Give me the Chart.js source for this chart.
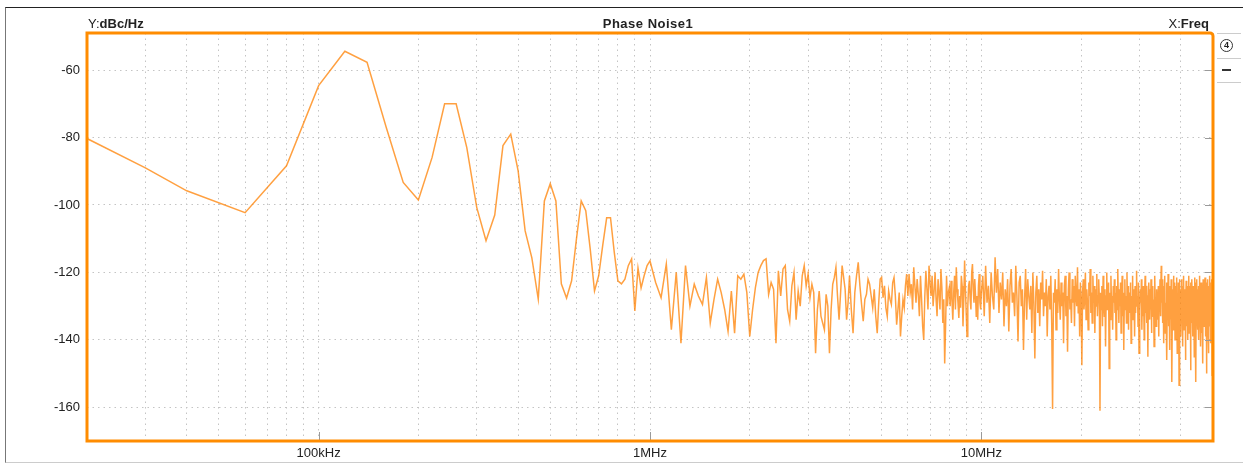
<!DOCTYPE html>
<html>
<head>
<meta charset="utf-8">
<script src="https://cdn.jsdelivr.net/npm/chart.js@4.4.1/dist/chart.umd.min.js"></script>
<style>
  html, body { margin: 0; padding: 0; background: #fff; }
  #wrap { position: relative; width: 1243px; height: 464px; overflow: hidden; font-family: "Liberation Sans", Arial, sans-serif; color: #222; }
  #frame { position: absolute; left: 5px; top: 7px; width: 1250px; height: 454px; border-top: 1px solid #222; border-left: 1px solid #777; border-bottom: 1px solid #ccc; }
  #chart { position: absolute; left: 0; top: 0; }
  .hdr { position: absolute; top: 17px; font-size: 13px; line-height: 14px; white-space: nowrap; }
  .hdr b { font-weight: bold; }
  #ylab { left: 88px; }
  #title { left: 648px; transform: translateX(-50%); font-weight: bold; letter-spacing: 0.5px; }
  #xlab { right: 34px; }
  .sep { position: absolute; left: 1217px; width: 24px; height: 1px; background: #ccc; }
  #circ { position: absolute; left: 1220px; top: 39px; width: 11px; height: 11px; border: 1.5px solid #333; border-radius: 50%; font-size: 9px; font-weight: bold; line-height: 11px; text-align: center; }
  #minus { position: absolute; left: 1222px; top: 69px; width: 9px; height: 2px; background: #333; }
</style>
</head>
<body>
<div id="wrap">
  <div id="frame"></div>
  <canvas id="chart" width="1243" height="464"></canvas>
  <div class="hdr" id="ylab">Y:<b>dBc/Hz</b></div>
  <div class="hdr" id="title">Phase Noise1</div>
  <div class="hdr" id="xlab">X:<b>Freq</b></div>
  <div class="sep" style="top:33px"></div>
  <div id="circ">4</div>
  <div class="sep" style="top:58px"></div>
  <div id="minus"></div>
  <div class="sep" style="top:82px"></div>
</div>
<script>
// low offset region, frequencies in kHz
var freqA = [20, 30, 40, 60, 80, 100, 120, 140, 160, 180, 200, 220, 240, 260, 280, 300, 320, 340, 360, 380,
    400, 420, 440, 460, 480, 500, 520, 540, 560, 580, 600, 620, 640, 660, 680, 700, 720, 740, 760, 780,
    800, 820, 840, 860, 880, 900, 920, 940, 960, 980, 1000];
var dbA = [-80.3, -89, -95.8, -102.3, -88.4, -64.6, -54.4, -57.7, -77, -93.3, -98.5, -85.9, -70, -70, -83, -100.7, -110.6, -103, -82.4, -79,
    -89.9, -107.7, -115.7, -127.9, -98.8, -93.7, -98.8, -123.4, -127.6, -122.5, -110, -98.8, -101.7, -113, -125.5, -121, -112, -103.8, -103.8, -114,
    -122.5, -123.4, -122, -118, -116, -131.4, -118.7, -124.6, -121, -118, -116.6];

// noise floor, sampled on uniform grids
var noiseStartHz = [1.04e6, 2.04e6, 4.05e6, 10.1e6];
var noiseStepHz = [40e3, 40e3, 50e3, 100e3];
var noiseDb = [
    [-123, -127.5, -117.5, -137, -120, -141, -118, -130, -123.5, -127, -129.5, -121.5, -135, -128, -122, -126, -131, -137.5, -125.5, -138,
     -121, -122, -120.5, -126, -139],
    [-131, -124.5, -120, -118, -116.5, -116, -126.5, -123, -125, -141, -119.5, -127, -119, -118, -131, -134.5, -124, -120, -134, -125.5,
     -130, -121, -118, -124, -120.5, -127.5, -123.5, -126, -144, -131, -125.5, -133, -135, -137, -126.5, -130, -144, -131, -123.5, -121.5,
     -118.5, -127, -134, -126, -118, -121.5, -125, -134, -129, -121],
    [-131, -138, -126, -121, -117, -124, -129.5, -134.5, -128, -126.5, -122, -123.5, -127, -130.5, -125, -133, -138, -129, -122, -121.5,
     -127.5, -124, -130.5, -133, -125.5, -128, -129.5, -123, -121.5, -127, -135.5, -131, -126, -139, -133, -128, -130.5, -124, -120.5, -127,
     -120.5, -126, -123.5, -131, -118.5, -124, -129, -122, -126.5, -133, -121, -128, -136, -140, -127, -119.5, -125, -131, -118, -123,
     -127, -121, -130, -125.5, -120, -128, -133, -122, -126, -131, -119, -124.5, -135, -128, -147, -135.5, -121, -130, -126, -124.5,
     -130, -122.5, -128, -134, -126, -121, -131, -118.5, -125, -129, -133.5, -127, -130.5, -121, -124, -136, -128, -116.5, -125, -132,
     -139, -130, -124, -122.5, -128, -131, -120, -117.5, -125, -129, -122, -126.5, -133, -127, -134, -124, -120.5, -129, -131, -126],
    [-121, -133, -118, -129, -124, -135, -120, -127, -131, -115.5,
     -126, -119, -132, -123, -128, -120, -136, -125, -130, -122,
     -137.5, -124, -119, -129, -126, -133, -118, -127, -140.5, -123,
     -121, -130, -125, -143, -128, -119, -134, -122, -127, -131,
     -124, -138, -120, -129, -145.5, -126, -121, -132, -125, -136,
     -123, -128, -119.5, -133, -126, -130, -122, -139, -127, -124,
     -131, -121, -135, -160.5, -126, -129, -122, -137, -125, -132,
     -119, -128, -134, -123, -130, -126, -141, -124, -121, -133,
     -127, -143.5, -125, -120, -131, -128, -135, -122, -129, -124,
     -136, -121, -127, -130, -118.5, -132, -125, -139, -123, -128,
     -147.5, -126, -122, -131, -128, -120, -134, -125, -129, -137,
     -123, -127, -119, -132, -126, -135, -121, -129, -124, -138,
     -125, -130, -120.5, -133, -127, -122, -128, -161, -126, -131,
     -124, -136, -121, -129, -133, -125, -142, -127, -120, -131,
     -128, -123, -148.5, -126, -134, -121, -130, -127, -137, -124,
     -129, -122, -132, -126, -140, -124, -131, -119, -128, -135,
     -125, -130, -123, -138, -127, -121, -133, -126, -143, -128,
     -122, -131, -127, -135, -120, -129, -124, -137, -126, -132,
     -128, -123, -141, -127, -130, -121, -134, -125, -129, -139,
     -124, -132, -126, -119.5, -130, -127, -136, -123, -144, -128,
     -131, -125, -129, -122, -137, -127, -133, -124, -130, -140,
     -126, -121, -132, -128, -135, -124, -130, -145, -127, -123,
     -129, -134, -125, -131, -122, -138, -127, -130, -124, -133,
     -128, -142, -126, -121, -131, -129, -136, -125, -130, -127,
     -134, -124, -139, -128, -131, -122, -133, -127, -118, -129,
     -126, -135, -122, -130, -141, -124, -132, -121, -138, -129,
     -131, -123, -146, -127, -133, -120.5, -136, -126, -130, -143,
     -124, -129, -134, -122, -127, -152.5, -131, -125, -137, -121,
     -133, -126, -123, -140, -128, -124, -135, -121.5, -127, -144,
     -129, -136, -123, -132, -153.5, -126, -122, -134, -125, -139,
     -131, -122, -135, -129, -142, -124, -133, -121, -137, -127,
     -132, -125, -146, -130, -122.5, -136, -129, -124, -127, -140,
     -126, -133, -121, -138, -124, -131, -128, -149, -123, -127,
     -135, -122, -131, -126, -139, -124, -133, -127, -145, -121.5,
     -128, -136, -123, -152.5, -126, -134, -122, -132, -137, -125,
     -133, -124, -140, -131, -121, -135, -127, -130, -142, -123,
     -131, -138, -124, -134, -126, -147, -122, -133, -129, -136,
     -124, -132, -121.5, -139, -127, -135, -123, -150, -129, -134,
     -130, -122, -137, -126, -144, -124, -133, -121, -136, -125,
     -132, -123, -141, -127, -135, -122, -150.5, -131, -124, -129]
];

var xTickValues = [2e4, 3e4, 4e4, 5e4, 6e4, 7e4, 8e4, 9e4, 1e5, 2e5, 3e5, 4e5, 5e5, 6e5, 7e5, 8e5, 9e5,
    1e6, 2e6, 3e6, 4e6, 5e6, 6e6, 7e6, 8e6, 9e6, 1e7, 2e7, 3e7, 4e7, 5e7];
var xTickLabels = ['', '', '', '', '', '', '', '', '100kHz', '', '', '', '', '', '', '', '',
    '1MHz', '', '', '', '', '', '', '', '', '10MHz', '', '', '', ''];
var yTickValues = [-160, -150, -140, -130, -120, -110, -100, -90, -80, -70, -60, -50];
var yTickLabels = ['-160', '', '-140', '', '-120', '', '-100', '', '-80', '', '-60', ''];

var points = [];
freqA.forEach(function (f, i) { points.push({ x: f * 1000, y: dbA[i] }); });
noiseDb.forEach(function (vals, s) {
    vals.forEach(function (v, i) { points.push({ x: noiseStartHz[s] + i * noiseStepHz[s], y: v }); });
});

var frame = {
    id: 'frame',
    afterDraw: function (chart) {
        var c = chart.ctx, a = chart.chartArea, xs = chart.scales.x, ys = chart.scales.y;
        c.save();
        c.strokeStyle = '#9a9a9a';
        c.lineWidth = 1;
        c.beginPath();
        [1e5, 1e6, 1e7].forEach(function (v) {
            var px = Math.round(xs.getPixelForValue(v)) + 0.5;
            c.moveTo(px, a.bottom - 9);
            c.lineTo(px, a.bottom);
        });
        yTickValues.forEach(function (v, i) {
            if (!yTickLabels[i]) return;
            var py = Math.round(ys.getPixelForValue(v)) + 0.5;
            c.moveTo(a.right - 8, py);
            c.lineTo(a.right, py);
        });
        c.stroke();
        var r = 3;
        c.strokeStyle = '#ff8c00';
        c.lineWidth = 3;
        c.beginPath();
        c.moveTo(a.left, a.bottom);
        c.lineTo(a.left, a.top);
        c.lineTo(a.right - r, a.top);
        c.arcTo(a.right, a.top, a.right, a.top + r, r);
        c.lineTo(a.right, a.bottom);
        c.closePath();
        c.stroke();
        c.restore();
    }
};

var font = { family: '"Liberation Sans", Arial, sans-serif', size: 13 };

new Chart(document.getElementById('chart'), {
    type: 'line',
    data: {
        datasets: [{
            data: points,
            borderColor: 'rgba(255, 128, 0, 0.75)',
            borderWidth: 1.5,
            pointRadius: 0,
            tension: 0,
            fill: false
        }]
    },
    options: {
        responsive: false,
        animation: false,
        layout: { padding: { top: 33, right: 30, left: 0, bottom: 0 } },
        plugins: { legend: { display: false }, tooltip: { enabled: false } },
        scales: {
            x: {
                type: 'logarithmic',
                min: 2e4,
                max: 5e7,
                afterBuildTicks: function (s) { s.ticks = xTickValues.map(function (v) { return { value: v }; }); },
                afterFit: function (s) { s.height = 23; },
                grid: { color: '#c4c4c4', lineWidth: 1, drawTicks: false },
                border: { display: false, dash: [1.5, 4] },
                ticks: {
                    autoSkip: false, maxRotation: 0, padding: 5, color: '#222', font: font,
                    callback: function (v, i) { return xTickLabels[i]; }
                }
            },
            y: {
                min: -170,
                max: -49,
                afterBuildTicks: function (s) { s.ticks = yTickValues.map(function (v) { return { value: v }; }); },
                afterFit: function (s) { s.width = 87; },
                grid: {
                    color: function (ctx) { return yTickLabels[ctx.index] ? '#c4c4c4' : 'rgba(0,0,0,0)'; },
                    lineWidth: 1, drawTicks: false
                },
                border: { display: false, dash: [1.5, 4] },
                ticks: {
                    padding: 7, color: '#222', font: font,
                    callback: function (v, i) { return yTickLabels[i]; }
                }
            }
        }
    },
    plugins: [frame]
});
</script>
</body>
</html>
